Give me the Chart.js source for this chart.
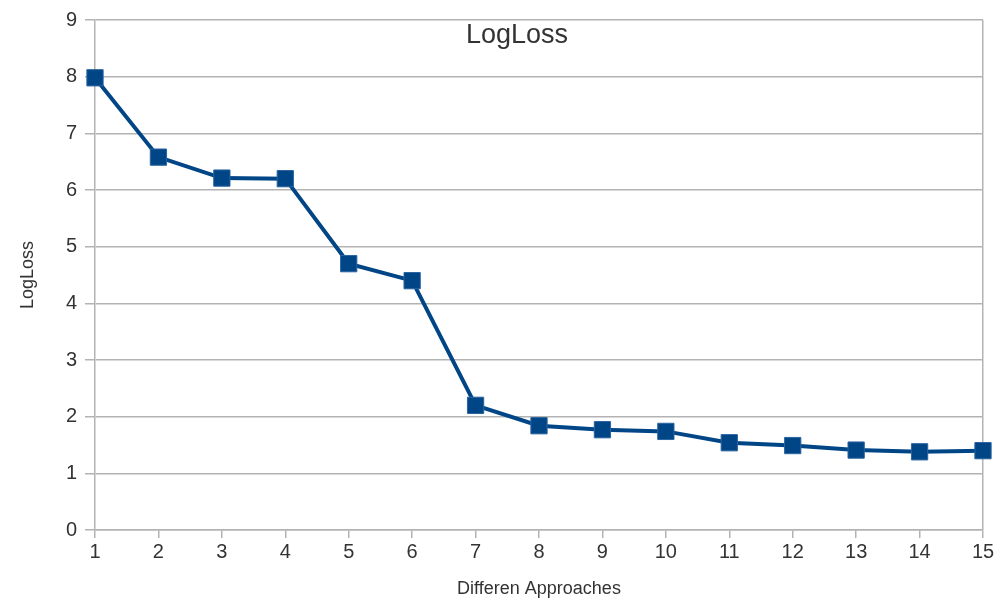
<!DOCTYPE html>
<html>
<head>
<meta charset="utf-8">
<script src="https://cdn.jsdelivr.net/npm/chart.js@4/dist/chart.umd.min.js"></script>
<style>
html,body{margin:0;padding:0;background:#fff;}
#wrap{width:1007px;height:600px;position:relative;}
</style>
</head>
<body>
<div id="wrap"><canvas id="c" width="1007" height="600"></canvas></div>
<script>
const chartTitle = "LogLoss";
const xTitle = "Differen Approaches";
const yTitle = "LogLoss";
const approaches = [1,2,3,4,5,6,7,8,9,10,11,12,13,14,15];
const logLoss = [7.98,6.58,6.21,6.20,4.70,4.40,2.20,1.84,1.77,1.74,1.54,1.49,1.41,1.38,1.40];
const yTicks = [0,1,2,3,4,5,6,7,8,9];

const points = approaches.map((x,i)=>({x:x,y:logLoss[i]}));
const FONT = "'Liberation Sans', Arial, sans-serif";

const innerTitle = {
  id:'innerTitle',
  afterDraw(chart){
    const {ctx} = chart;
    ctx.save();
    ctx.font = "27px " + FONT;
    ctx.fillStyle = "#333";
    ctx.textAlign = "center";
    ctx.textBaseline = "middle";
    ctx.fillText(chartTitle, 517, 36);
    ctx.restore();
  }
};

new Chart(document.getElementById('c'), {
  type:'line',
  data:{datasets:[{
    data:points,
    borderColor:'#004586',
    backgroundColor:'#004586',
    borderWidth:4,
    pointStyle:'rect',
    pointRadius:11.5,
    pointHoverRadius:11.5,
    pointBackgroundColor:'#004586',
    pointBorderColor:'#2a64a0',
    pointBorderWidth:1,
    tension:0,
    clip:false
  }]},
  options:{
    responsive:false,
    animation:false,
    events:[],
    layout:{padding:{top:19,right:24,left:0,bottom:0}},
    plugins:{legend:{display:false},tooltip:{enabled:false},title:{display:false}},
    scales:{
      x:{
        type:'linear',
        min:1,max:15,
        afterFit(s){ s.height = 70; },
        afterBuildTicks(s){ s.ticks = approaches.map(v=>({value:v})); },
        grid:{
          color:(c)=> (c.index===approaches.length-1) ? '#b3b3b3' : 'rgba(0,0,0,0)',
          tickColor:'#b3b3b3',
          tickLength:8,
          lineWidth:1.5
        },
        border:{display:true,color:'#b3b3b3',width:1.5},
        ticks:{font:{family:FONT,size:20},color:'#333',padding:2,maxRotation:0,autoSkip:false},
        title:{display:true,text:xTitle,font:{family:FONT,size:18},color:'#333',padding:{top:0,bottom:0}}
      },
      y:{
        min:0,max:9,
        afterFit(s){ s.width = 95; },
        afterBuildTicks(s){ s.ticks = yTicks.map(v=>({value:v})); },
        grid:{color:'#b3b3b3',tickColor:'#b3b3b3',tickLength:10,lineWidth:1.5},
        border:{display:true,color:'#b3b3b3',width:1.5},
        ticks:{font:{family:FONT,size:20},color:'#333',padding:8},
        title:{display:true,text:yTitle,font:{family:FONT,size:18},color:'#333',padding:{top:17,bottom:0}}
      }
    }
  },
  plugins:[innerTitle]
});
</script>
</body>
</html>
